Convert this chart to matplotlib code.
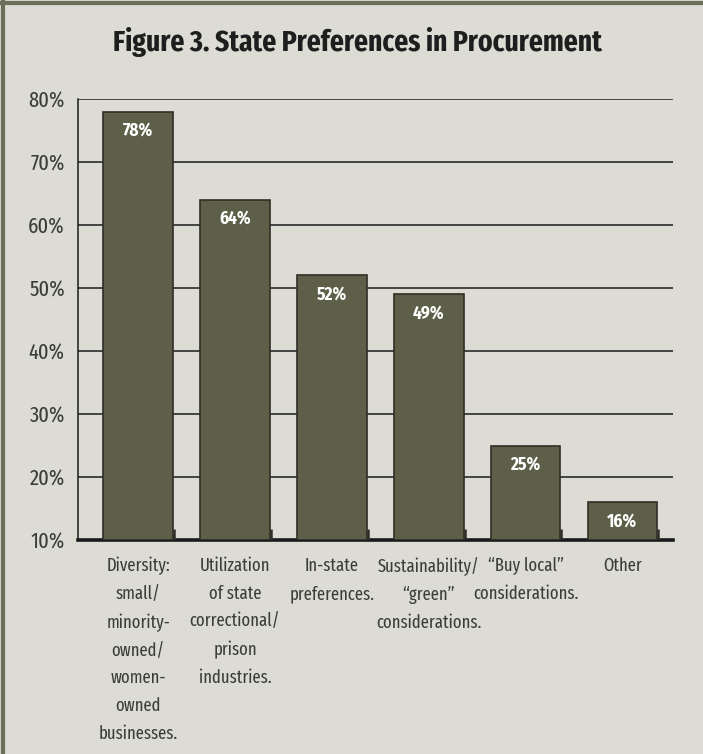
import matplotlib.pyplot as plt
from matplotlib.lines import Line2D
import numpy as np

categories = [
    "Diversity:\nsmall/\nminority-\nowned/\nwomen-\nowned\nbusinesses.",
    "Utilization\nof state\ncorrectional/\nprison\nindustries.",
    "In-state\npreferences.",
    "Sustainability/\n\u201cgreen\u201d\nconsiderations.",
    "\u201cBuy local\u201d\nconsiderations.",
    "Other",
]
values = [78, 64, 52, 49, 25, 16]
yticks = [10, 20, 30, 40, 50, 60, 70, 80]

bg = "#dcdcd5"
bar_color = "#5e5f49"
border = "#6e6f58"
text_color = "#3c3c38"

plt.rcParams["font.family"] = ["Fira Sans Extra Condensed", "DejaVu Sans"]

fig = plt.figure(figsize=(7.03, 7.54), dpi=100, facecolor=bg)
ax = fig.add_axes([0.111, 0.2838, 0.846, 0.5849])
ax.set_facecolor(bg)

x = np.arange(len(values))
base = 10
ax.bar(x, np.array(values) - base, bottom=base, width=0.72,
       color=bar_color, edgecolor="#2e2e26", linewidth=1.2, zorder=3)

# little dark foot at the right edge of each bar
for xi in x:
    ax.vlines(xi + 0.37, base, base + 1.8, color="#2e2e26", lw=1.8, zorder=4)

for xi, v in zip(x, values):
    ax.text(xi, v - 3.0, f"{v}%", ha="center", va="center", color="white",
            fontsize=12.5, fontweight="bold", family=["Fira Sans Condensed", "DejaVu Sans"],
            zorder=5)

for t in yticks[1:]:
    ax.axhline(t, color="#1a1a1a", lw=1.1, zorder=1)

ax.set_xlim(-0.62, 5.52)
ax.set_ylim(10, 80)
ax.set_yticks(yticks)
ax.set_yticklabels([f"{t}%" for t in yticks], fontsize=16, color=text_color)
ax.tick_params(axis="y", length=0, pad=9.5)
ax.set_xticks([])

for s in ["top", "right"]:
    ax.spines[s].set_visible(False)
ax.spines["left"].set_color("#1a1a1a")
ax.spines["left"].set_linewidth(1.1)
ax.spines["bottom"].set_color("#1a1a1a")
ax.spines["bottom"].set_linewidth(2.6)

for xi, lab in zip(x, categories):
    ax.text(xi, 7.3, lab, ha="center", va="top", fontsize=13,
            color=text_color, linespacing=1.7, clip_on=False)

fig.text(0.5085, 0.944, "Figure 3. State Preferences in Procurement",
         ha="center", va="center", fontsize=21.5, fontweight="bold",
         color="#1e1e1e")

# frame on the left and top edges
fig.add_artist(Line2D([0.004, 0.004], [0, 0.997], color=border, lw=3,
                      transform=fig.transFigure))
fig.add_artist(Line2D([0.002, 1], [0.996, 0.996], color=border, lw=3,
                      transform=fig.transFigure))

fig.savefig("out.png", dpi=100, facecolor=bg)
